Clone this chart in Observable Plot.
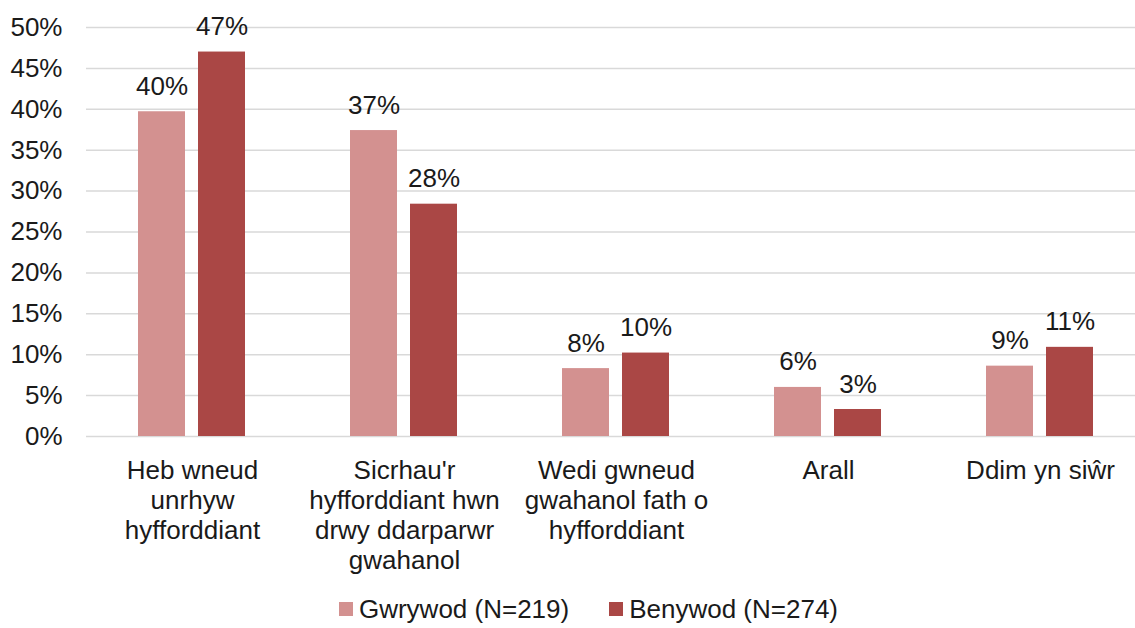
<!DOCTYPE html>
<html>
<head>
<meta charset="utf-8">
<script src="https://cdn.jsdelivr.net/npm/d3@7"></script>
<script src="https://cdn.jsdelivr.net/npm/@observablehq/plot@0.6"></script>
<style>
  html, body { margin: 0; padding: 0; background: #fff; }
  body { width: 1135px; height: 628px; overflow: hidden; font-family: "Liberation Sans", Arial, sans-serif; color: #1a1a1a; }
  #legend { height: 38px; display: flex; justify-content: center; align-items: center; padding-left: 42px; font-size: 26px; }
  .item { display: flex; align-items: center; margin: 0 20px; }
  .sw { width: 14px; height: 14px; margin-right: 6px; }
</style>
</head>
<body>
<div id="chart"></div>
<div id="legend"></div>
<script>
const categories = [
  "Heb wneud unrhyw hyfforddiant",
  "Sicrhau'r hyfforddiant hwn drwy ddarparwr gwahanol",
  "Wedi gwneud gwahanol fath o hyfforddiant",
  "Arall",
  "Ddim yn siŵr"
];
const categoryLabels = [
  "Heb wneud\nunrhyw\nhyfforddiant",
  "Sicrhau'r\nhyfforddiant hwn\ndrwy ddarparwr\ngwahanol",
  "Wedi gwneud\ngwahanol fath o\nhyfforddiant",
  "Arall",
  "Ddim yn siŵr"
];
const seriesNames = ["Gwrywod (N=219)", "Benywod (N=274)"];
const gwrywod = [39.7, 37.4, 8.3, 6.0, 8.6];
const benywod = [47.0, 28.4, 10.2, 3.3, 10.9];
const yTicks = [0, 5, 10, 15, 20, 25, 30, 35, 40, 45, 50];
const colors = ["#D39190", "#AA4745"];

const seriesValues = [gwrywod, benywod];
const data = [];
categories.forEach((c, i) => {
  seriesNames.forEach((s, j) => {
    data.push({category: c, series: s, value: seriesValues[j][i]});
  });
});
const labelOf = new Map(categories.map((c, i) => [c, categoryLabels[i]]));

const chart = Plot.plot({
  width: 1135,
  height: 590,
  marginTop: 27,
  marginBottom: 154,
  marginLeft: 86,
  marginRight: -11,
  style: {fontFamily: "Liberation Sans, Arial, sans-serif", fontSize: "26px", color: "#1a1a1a", background: "#fff"},
  fx: {domain: categories, padding: 0, label: null},
  x: {domain: seriesNames, axis: null, paddingInner: 0.215, paddingOuter: 0.86},
  y: {domain: [0, 50], label: null, axis: null},
  color: {domain: seriesNames, range: colors},
  marks: [
    Plot.gridY(yTicks, {stroke: "#d9d9d9", strokeOpacity: 1, strokeWidth: 1.5}),
    Plot.axisY(yTicks, {tickSize: 0, tickPadding: 24, tickFormat: d => d + "%", label: null, fontSize: 26}),
    Plot.axisFx({anchor: "bottom", tickSize: 0, tickPadding: 21, lineHeight: 1.154, fontSize: 26, label: null, tickFormat: d => labelOf.get(d)}),
    Plot.barY(data, {fx: "category", x: "series", y: "value", fill: "series"}),
    Plot.text(data, {fx: "category", x: "series", y: "value", text: d => Math.round(d.value) + "%", dy: -17, lineAnchor: "bottom", fontSize: 26, fill: "#1a1a1a"})
  ]
});
document.getElementById("chart").appendChild(chart);

const legend = document.getElementById("legend");
seriesNames.forEach((s, i) => {
  const item = document.createElement("div");
  item.className = "item";
  const sw = document.createElement("div");
  sw.className = "sw";
  sw.style.background = colors[i];
  const t = document.createElement("span");
  t.textContent = s;
  item.appendChild(sw);
  item.appendChild(t);
  legend.appendChild(item);
});
</script>
</body>
</html>
